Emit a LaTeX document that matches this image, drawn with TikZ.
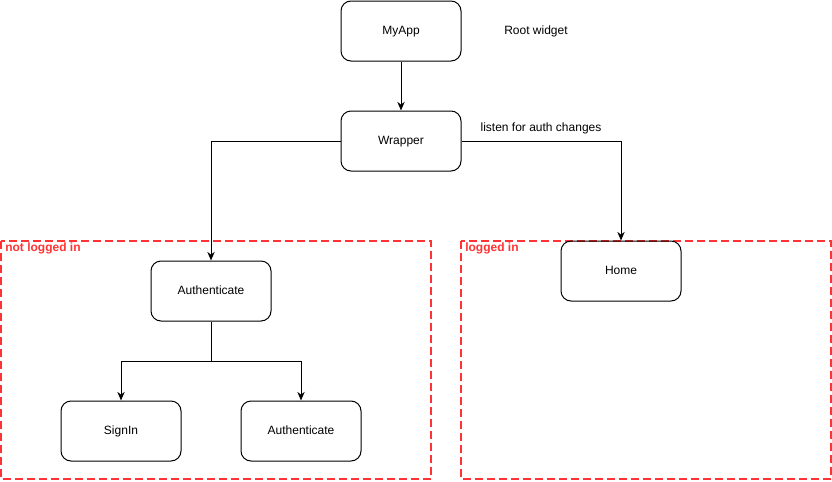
\documentclass[tikz,border=0pt]{standalone}
\usepackage{fontspec}
\setmainfont{Liberation Sans}
\usetikzlibrary{positioning, arrows.meta}
\tikzset{>={Stealth[length=6.5pt, width=5.5pt]}}
\definecolor{zonered}{HTML}{FF3333}

\begin{document}
\begin{tikzpicture}[x=0.75pt, y=-0.75pt, font=\fontsize{9}{11}\selectfont,
	widget/.style={draw, rounded corners=7.5pt, minimum width=90pt, minimum height=45pt, line width=0.75pt, text height=6.5pt, text depth=2pt},
	zone/.style={draw=zonered, line width=1.5pt, dash pattern=on 6pt off 3pt},
	zonelabel/.style={text=zonered, font=\fontsize{9}{11}\selectfont\bfseries, anchor=west, inner sep=0pt}]
			\useasboundingbox (0,0) rectangle (832,482);
			% login zones
			\draw [zone] (1,241) rectangle (431,479);
			\draw [zone] (461,241) rectangle (831,479);
			\node [zonelabel] (notin) at (5,248) {not logged in};
			\node [zonelabel] (in) at (465,248) {logged in};
			% widgets
			\node [widget] (myapp) at (401,31) {MyApp};
			\node [widget] (wrapper) at (401,141) {Wrapper};
			\node [widget] (auth) at (211,291) {Authenticate};
			\node [widget] (signin) at (121,431) {SignIn};
			\node [widget] (auth2) at (301,431) {Authenticate};
			\node [widget] (home) at (621,271) {Home};
			\node [text height=6.5pt, text depth=2pt] (root) at (536,31) {Root widget};
			\node [text height=6.5pt, text depth=2pt] (listen) at (541,128) {listen for auth changes};
			\coordinate (split) at (211,361);
			% connectors
			\draw [line width=0.75pt, ->] (myapp) -- (wrapper);
			\draw [line width=0.75pt, ->] (wrapper.west) -| (auth.north);
			\draw [line width=0.75pt, ->] (wrapper.east) -| (home.north);
			\draw [line width=0.75pt] (auth.south) -- (split);
			\draw [line width=0.75pt, ->] (split) -| (signin.north);
			\draw [line width=0.75pt, ->] (split) -| (auth2.north);
		\end{tikzpicture}
\end{document}
